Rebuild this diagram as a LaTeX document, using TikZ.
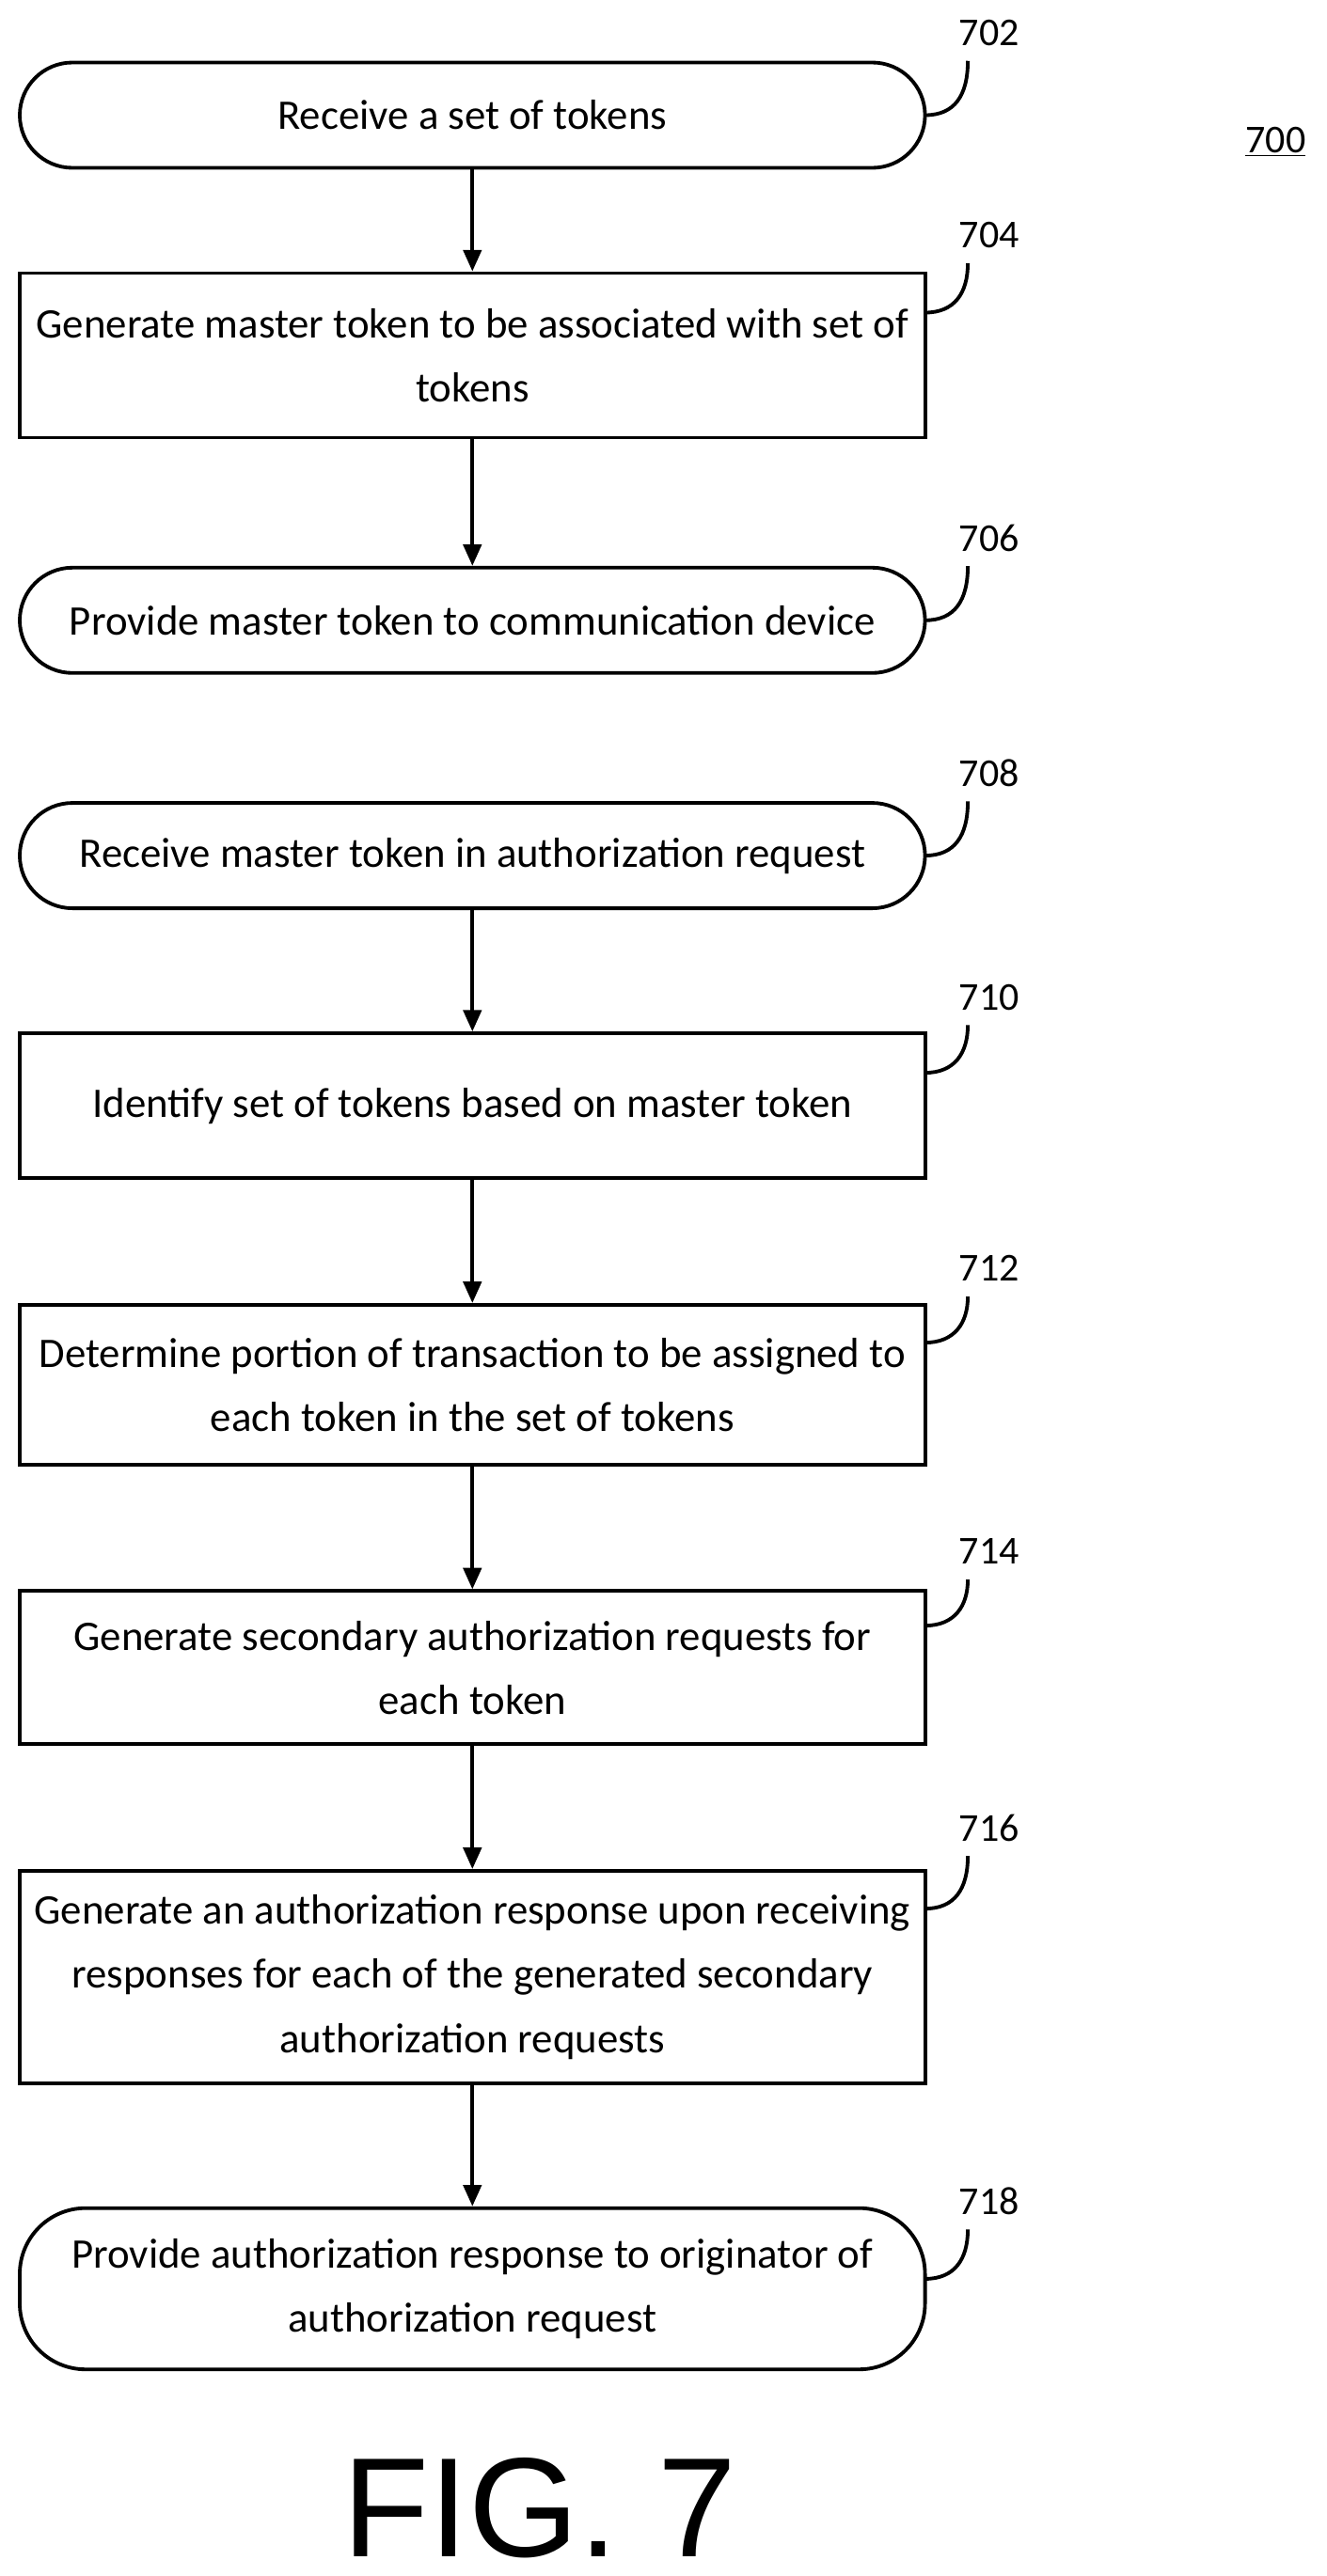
\documentclass[tikz,border=0pt]{standalone}
\usepackage{fontspec}
\setmainfont{Carlito}
\newfontfamily\figfont{Liberation Sans}
\usetikzlibrary{arrows.meta}
\begin{document}
\begin{tikzpicture}[x=1pt,y=-1pt,
 box/.style={draw,line width=2.2pt,minimum width=550pt,align=center,font=\fontsize{25.6}{39}\selectfont,inner sep=0pt},
 term/.style={box,rounded corners=32pt},
 arr/.style={-{Triangle[length=13pt,width=11pt]},line width=2.2pt},
 lead/.style={line width=2.2pt},
 lab/.style={font=\fontsize{24}{28}\selectfont}]
\useasboundingbox (0,0) rectangle (806,1565.6);
\node[term,minimum height=64pt] (n702) at (287,70) {Receive a set of tokens};
\node[box,minimum height=100pt] (n704) at (287,216) {Generate master token to be associated with set of\\tokens};
\node[term,minimum height=64pt] (n706) at (287,377) {Provide master token to communication device};
\node[term,minimum height=64pt] (n708) at (287,520) {Receive master token in authorization request};
\node[box,minimum height=88pt] (n710) at (287,672) {Identify set of tokens based on master token};
\node[box,minimum height=97pt] (n712) at (287,841.5) {Determine portion of transaction to be assigned to\\each token in the set of tokens};
\node[box,minimum height=93pt] (n714) at (287,1013.5) {Generate secondary authorization requests for\\each token};
\node[box,minimum height=129pt] (n716) at (287,1201.5) {Generate an authorization response upon receiving\\responses for each of the generated secondary\\authorization requests};
\node[term,minimum height=98pt,rounded corners=40pt] (n718) at (287,1391) {Provide authorization response to originator of\\authorization request};
\draw[arr] (n702) -- (n704);
\draw[arr] (n704) -- (n706);
\draw[arr] (n708) -- (n710);
\draw[arr] (n710) -- (n712);
\draw[arr] (n712) -- (n714);
\draw[arr] (n714) -- (n716);
\draw[arr] (n716) -- (n718);
\foreach \n/\y/\ly in {702/70/20,704/190/143,706/377/327,708/520/470,710/652/606,712/816/771,714/988/943,716/1160/1111,718/1385/1338}{
 \node[lab] (l\n) at (601,\ly) {\n};
 \coordinate (c\n) at (562,\y);
 \draw[lead] (c\n) .. controls (580,\y) and (588,\y-12) .. (588,\ly+17);
}
\node[lab] (l700) at (775,86) {\underline{700}};
\node[font=\figfont\fontsize{86}{90}\selectfont,inner sep=0pt] (fig) at (328,1524) {FIG. 7};
\end{tikzpicture}
\end{document}
